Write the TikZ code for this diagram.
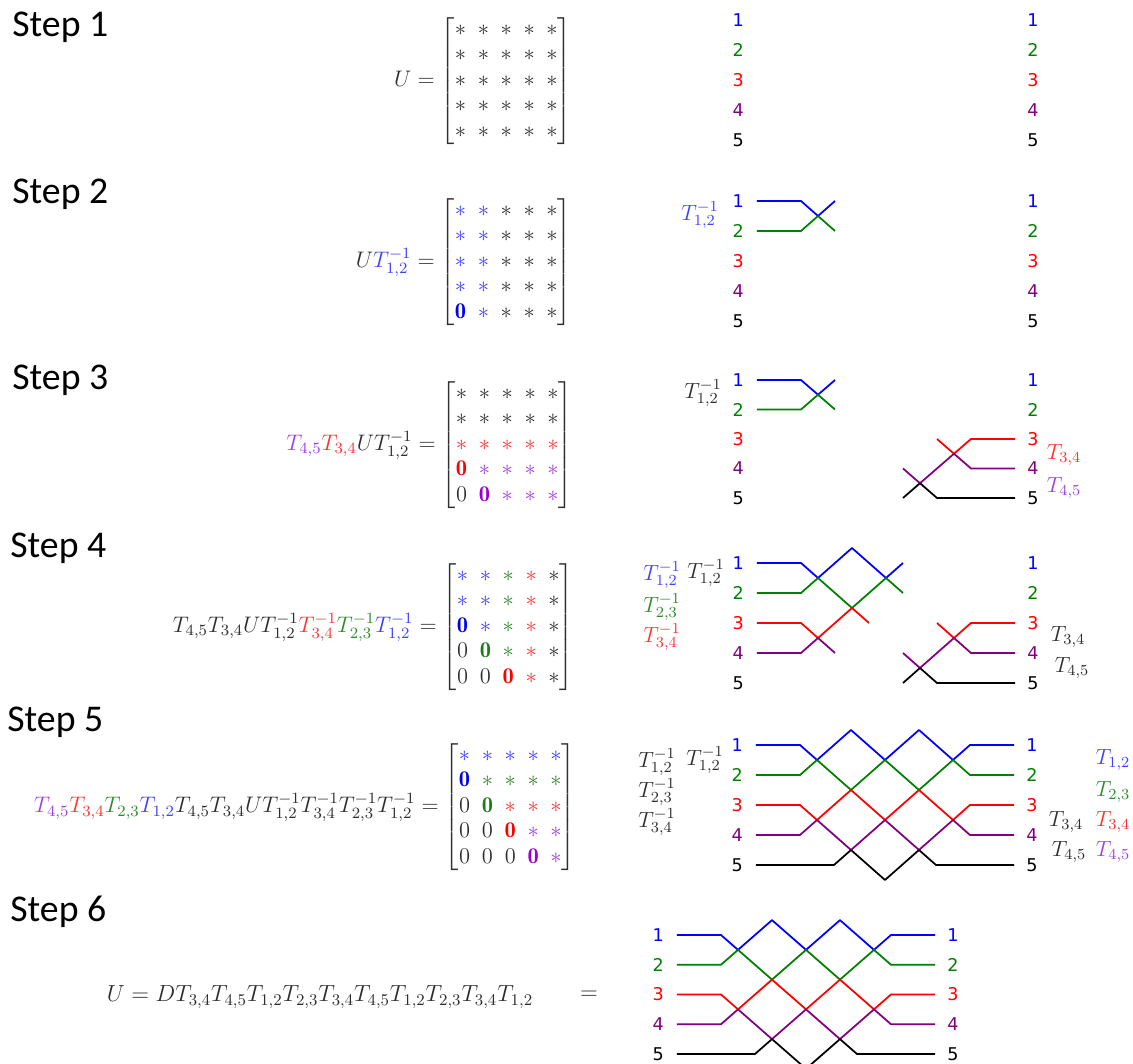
\RequirePackage{fix-cm}
\documentclass[tikz,border=0pt]{standalone}
\usepackage{amsmath}
\usepackage{fontspec}
\usepackage{xcolor}
\usetikzlibrary{positioning}
\newfontfamily\stepfont{Carlito}
\newfontfamily\numfont{DejaVu Sans}
\definecolor{WireBlue}{HTML}{0000FF}
\definecolor{WireGreen}{HTML}{008000}
\definecolor{WireRed}{HTML}{FF0000}
\definecolor{WirePurple}{HTML}{800080}
\definecolor{LabBlue}{HTML}{4040FF}
\definecolor{LabGreen}{HTML}{2E8B2E}
\definecolor{LabRed}{HTML}{FF3333}
\definecolor{LabViolet}{HTML}{A040E0}
\definecolor{InkGray}{HTML}{2E2E2E}
\definecolor{ZeroBlue}{HTML}{0000EE}
\definecolor{ZeroGreen}{HTML}{1E7B1E}
\definecolor{ZeroViolet}{HTML}{9A00D0}
\setlength{\arraycolsep}{3.3pt}
% matrix entries
\newcommand{\sK}{{\color{InkGray}*}}
\newcommand{\sB}{{\color{LabBlue}*}}
\newcommand{\sG}{{\color{LabGreen}*}}
\newcommand{\sR}{{\color{LabRed}*}}
\newcommand{\sV}{{\color{LabViolet}*}}
\newcommand{\zK}{{\color{InkGray}0}}
\newcommand{\zB}{{\color{ZeroBlue}\mathbf{0}}}
\newcommand{\zG}{{\color{ZeroGreen}\mathbf{0}}}
\newcommand{\zR}{{\color{WireRed}\mathbf{0}}}
\newcommand{\zV}{{\color{ZeroViolet}\mathbf{0}}}
% wire numbers on both sides of a mesh
\newcommand{\wirenums}[1]{%
  \foreach \k/\c in {1/WireBlue,2/WireGreen,3/WireRed,4/WirePurple,5/black}{
    \node[wnum, text=\c] (#1l\k) at (-2.35,\k-1) {\k};
    \node[wnum, text=\c] (#1r\k) at (6.32,\k-1) {\k};
  }}

\begin{document}
\begin{tikzpicture}[x=0.02cm, y=-0.02cm,
  steplabel/.style={anchor=base west, inner sep=0pt,
    font=\stepfont\fontsize{21.5}{25}\selectfont},
  wnum/.style={font=\numfont\fontsize{10}{12}\selectfont, inner sep=0pt},
  eqn/.style={font=\fontsize{12.8}{14.5}\selectfont, text=InkGray, inner sep=0pt},
  tlab/.style={font=\fontsize{12.5}{14}\selectfont, inner sep=0pt},
  wire/.style={line width=1pt, line join=round}
]
\useasboundingbox (0,0) rectangle (1133,1064);

\node[steplabel] (st1) at (12,37) {Step 1};
\node[steplabel] (st2) at (12,204) {Step 2};
\node[steplabel] (st3) at (12,389) {Step 3};
\node[steplabel] (st4) at (10,557) {Step 4};
\node[steplabel] (st5) at (7,731) {Step 5};
\node[steplabel] (st6) at (10,921) {Step 6};

% Step 1
\node[eqn, anchor=east] (eq1) at (572,81) {$U = \begin{bmatrix}
  \sK&\sK&\sK&\sK&\sK\\ \sK&\sK&\sK&\sK&\sK\\ \sK&\sK&\sK&\sK&\sK\\
  \sK&\sK&\sK&\sK&\sK\\ \sK&\sK&\sK&\sK&\sK \end{bmatrix}$};
\begin{scope}[shift={(818,20)}, x=0.68cm, y=-0.6cm]
  \wirenums{a}
\end{scope}

% Step 2
\node[eqn, anchor=east] (eq2) at (572,262) {$U{\color{LabBlue}T_{1,2}^{-1}} = \begin{bmatrix}
  \sB&\sB&\sK&\sK&\sK\\ \sB&\sB&\sK&\sK&\sK\\ \sB&\sB&\sK&\sK&\sK\\
  \sB&\sB&\sK&\sK&\sK\\ \zB&\sB&\sK&\sK&\sK \end{bmatrix}$};
\begin{scope}[shift={(818,201)}, x=0.68cm, y=-0.6cm]
  \wirenums{b}
  \draw[wire, WireBlue] (-1.8,0) -- (-0.5,0) -- (0,0.5) -- (0.5,0);
  \draw[wire, WireGreen] (-1.8,1) -- (-0.5,1) -- (0,0.5) -- (0.5,1);
\end{scope}
\node[tlab, text=LabBlue] (b12) at (700,215) {$T_{1,2}^{-1}$};

% Step 3
\node[eqn, anchor=east] (eq3) at (573,445) {${\color{LabViolet}T_{4,5}}{\color{LabRed}T_{3,4}}UT_{1,2}^{-1} = \begin{bmatrix}
  \sK&\sK&\sK&\sK&\sK\\ \sK&\sK&\sK&\sK&\sK\\ \sR&\sR&\sR&\sR&\sR\\
  \zR&\sV&\sV&\sV&\sV\\ \zK&\zV&\sV&\sV&\sV \end{bmatrix}$};
\begin{scope}[shift={(818,380)}, x=0.68cm, y=-0.59cm]
  \wirenums{c}
  \draw[wire, WireBlue] (-1.8,0) -- (-0.5,0) -- (0,0.5) -- (0.5,0);
  \draw[wire, WireGreen] (-1.8,1) -- (-0.5,1) -- (0,0.5) -- (0.5,1);
  \draw[wire, WireRed] (3.5,2) -- (4,2.5) -- (4.5,2) -- (5.8,2);
  \draw[wire, WirePurple] (2.5,3) -- (3,3.5) -- (4,2.5) -- (4.5,3) -- (5.8,3);
  \draw[wire, black] (2.5,4) -- (3,3.5) -- (3.5,4) -- (5.8,4);
\end{scope}
\node[tlab, text=InkGray] (c12) at (703,393) {$T_{1,2}^{-1}$};
\node[tlab, text=LabRed] (c34) at (1064,455) {$T_{3,4}$};
\node[tlab, text=LabViolet] (c45) at (1064,488) {$T_{4,5}$};

% Step 4
\node[eqn, anchor=east] (eq4) at (574,627) {$T_{4,5}T_{3,4}UT_{1,2}^{-1}{\color{LabRed}T_{3,4}^{-1}}{\color{LabGreen}T_{2,3}^{-1}}{\color{LabBlue}T_{1,2}^{-1}} = \begin{bmatrix}
  \sB&\sB&\sG&\sR&\sK\\ \sB&\sB&\sG&\sR&\sK\\ \zB&\sB&\sG&\sR&\sK\\
  \zK&\zG&\sG&\sR&\sK\\ \zK&\zK&\zR&\sR&\sK \end{bmatrix}$};
\begin{scope}[shift={(818,563)}, x=0.68cm, y=-0.6cm]
  \wirenums{d}
  \draw[wire, WireBlue] (-1.8,0) -- (-0.5,0) -- (0,0.5) -- (1,-0.5) -- (2,0.5) -- (2.5,0);
  \draw[wire, WireGreen] (-1.8,1) -- (-0.5,1) -- (0,0.5) -- (1,1.5) -- (2,0.5) -- (2.5,1);
  \draw[wire, WireRed] (-1.8,2) -- (-0.5,2) -- (0,2.5) -- (1,1.5) -- (1.5,2);
  \draw[wire, WirePurple] (-1.8,3) -- (-0.5,3) -- (0,2.5) -- (0.5,3);
  \draw[wire, WireRed] (3.5,2) -- (4,2.5) -- (4.5,2) -- (5.8,2);
  \draw[wire, WirePurple] (2.5,3) -- (3,3.5) -- (4,2.5) -- (4.5,3) -- (5.8,3);
  \draw[wire, black] (2.5,4) -- (3,3.5) -- (3.5,4) -- (5.8,4);
\end{scope}
\node[tlab, text=LabBlue] (d12b) at (662,575) {$T_{1,2}^{-1}$};
\node[tlab, text=InkGray] (d12) at (706,573) {$T_{1,2}^{-1}$};
\node[tlab, text=LabGreen] (d23) at (662,607) {$T_{2,3}^{-1}$};
\node[tlab, text=LabRed] (d34) at (662,637) {$T_{3,4}^{-1}$};
\node[tlab, text=InkGray] (d34r) at (1068,637) {$T_{3,4}$};
\node[tlab, text=InkGray] (d45r) at (1072,668) {$T_{4,5}$};

% Step 5
\node[eqn, anchor=east] (eq5) at (576,807) {${\color{LabViolet}T_{4,5}}{\color{LabRed}T_{3,4}}{\color{LabGreen}T_{2,3}}{\color{LabBlue}T_{1,2}}T_{4,5}T_{3,4}UT_{1,2}^{-1}T_{3,4}^{-1}T_{2,3}^{-1}T_{1,2}^{-1} = \begin{bmatrix}
  \sB&\sB&\sB&\sB&\sB\\ \zB&\sG&\sG&\sG&\sG\\ \zK&\zG&\sR&\sR&\sR\\
  \zK&\zK&\zR&\sV&\sV\\ \zK&\zK&\zK&\zV&\sV \end{bmatrix}$};
\begin{scope}[shift={(817,745)}, x=0.68cm, y=-0.6cm]
  \wirenums{e}
  \draw[wire, WireBlue] (-1.8,0) -- (-0.5,0) -- (0,0.5) -- (1,-0.5) -- (2,0.5) -- (3,-0.5) -- (4,0.5) -- (4.5,0) -- (5.8,0);
  \draw[wire, WireGreen] (-1.8,1) -- (-0.5,1) -- (0,0.5) -- (1,1.5) -- (2,0.5) -- (3,1.5) -- (4,0.5) -- (4.5,1) -- (5.8,1);
  \draw[wire, WireRed] (-1.8,2) -- (-0.5,2) -- (0,2.5) -- (1,1.5) -- (2,2.5) -- (3,1.5) -- (4,2.5) -- (4.5,2) -- (5.8,2);
  \draw[wire, WirePurple] (-1.8,3) -- (-0.5,3) -- (0,2.5) -- (1,3.5) -- (2,2.5) -- (3,3.5) -- (4,2.5) -- (4.5,3) -- (5.8,3);
  \draw[wire, black] (-1.8,4) -- (0.5,4) -- (1,3.5) -- (2,4.5) -- (3,3.5) -- (3.5,4) -- (5.8,4);
\end{scope}
\node[tlab, text=InkGray] (e12a) at (657,762) {$T_{1,2}^{-1}$};
\node[tlab, text=InkGray] (e12) at (705,760) {$T_{1,2}^{-1}$};
\node[tlab, text=InkGray] (e23) at (657,792) {$T_{2,3}^{-1}$};
\node[tlab, text=InkGray] (e34) at (657,822) {$T_{3,4}^{-1}$};
\node[tlab, text=LabBlue] (e12r) at (1113,760) {$T_{1,2}$};
\node[tlab, text=LabGreen] (e23r) at (1113,792) {$T_{2,3}$};
\node[tlab, text=InkGray] (e34k) at (1066,822) {$T_{3,4}$};
\node[tlab, text=LabRed] (e34r) at (1113,822) {$T_{3,4}$};
\node[tlab, text=InkGray] (e45k) at (1069,852) {$T_{4,5}$};
\node[tlab, text=LabViolet] (e45r) at (1113,852) {$T_{4,5}$};

% Step 6
\node[eqn, font=\fontsize{13.3}{15}\selectfont] (eq6) at (320,997) {$U = DT_{3,4}T_{4,5}T_{1,2}T_{2,3}T_{3,4}T_{4,5}T_{1,2}T_{2,3}T_{3,4}T_{1,2}$};
\node[eqn, font=\fontsize{13.3}{15}\selectfont] (eq6b) at (589,995) {$=$};
\begin{scope}[shift={(738,935)}, x=0.68cm, y=-0.595cm]
  \wirenums{f}
  \draw[wire, WireBlue] (-1.8,0) -- (-0.5,0) -- (0,0.5) -- (1,-0.5) -- (2,0.5) -- (3,-0.5) -- (4,0.5) -- (4.5,0) -- (5.8,0);
  \draw[wire, WireGreen] (-1.8,1) -- (-0.5,1) -- (0,0.5) -- (1,1.5) -- (2,0.5) -- (3,1.5) -- (4,0.5) -- (4.5,1) -- (5.8,1);
  \draw[wire, WireRed] (-1.8,2) -- (-0.5,2) -- (0,2.5) -- (1,1.5) -- (2,2.5) -- (3,1.5) -- (4,2.5) -- (4.5,2) -- (5.8,2);
  \draw[wire, WirePurple] (-1.8,3) -- (-0.5,3) -- (0,2.5) -- (1,3.5) -- (2,2.5) -- (3,3.5) -- (4,2.5) -- (4.5,3) -- (5.8,3);
  \draw[wire, black] (-1.8,4) -- (0.5,4) -- (1,3.5) -- (2,4.5) -- (3,3.5) -- (3.5,4) -- (5.8,4);
\end{scope}

\end{tikzpicture}
\end{document}
